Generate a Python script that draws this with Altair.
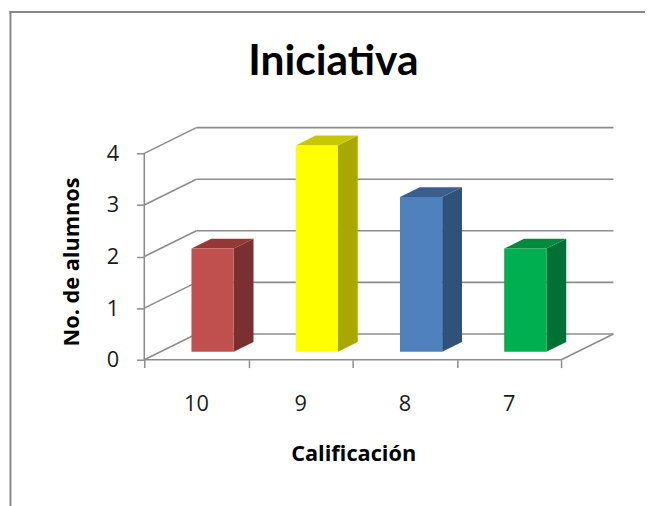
import altair as alt
import pandas as pd

# ---- data -------------------------------------------------------------
categories = ["10", "9", "8", "7"]
values = [2, 4, 3, 2]
front_colors = ["#C0504D", "#FFFF00", "#4F81BD", "#00B050"]
top_colors = ["#953735", "#C8C800", "#3A5F8E", "#008A3E"]
side_colors = ["#79302E", "#A8A800", "#30517A", "#007035"]
y_ticks = [0, 1, 2, 3, 4]

title_text = "Iniciativa"
x_title = "Calificación"
y_title = "No. de alumnos"

# ---- 3-D geometry (in data units) -------------------------------------
DEPTH = 0.5          # wall depth
OFF = 0.155          # distance from front plane to bar front face
BD = 0.19            # bar depth
BW = 0.405           # bar width
n = len(categories)

front_rows, side_rows, top_rows, label_rows = [], [], [], []
for i, (c, v) in enumerate(zip(categories, values)):
    x0 = i + 0.5 - BW / 2 + OFF
    x1 = x0 + BW
    front_rows.append(dict(cat=c, x=x0, x2=x1, y=OFF, y2=v + OFF))
    side_rows += [dict(cat=c, x=x1, y=OFF, y2=v + OFF),
                  dict(cat=c, x=x1 + BD, y=OFF + BD, y2=v + OFF + BD)]
    top_rows += [dict(cat=c, y=v + OFF, x=x0, x2=x1),
                 dict(cat=c, y=v + OFF + BD, x=x0 + BD, x2=x1 + BD)]
    label_rows.append(dict(cat=c, x=i + 0.5))

front_df = pd.DataFrame(front_rows)
side_df = pd.DataFrame(side_rows)
top_df = pd.DataFrame(top_rows)
label_df = pd.DataFrame(label_rows)

# walls / floor / grid lines
wall_rows = []
ymax = max(y_ticks)
for t in y_ticks:
    wall_rows.append(dict(x=DEPTH, x2=n + DEPTH, y=t + DEPTH, y2=t + DEPTH))  # back grid
    wall_rows.append(dict(x=0, x2=DEPTH, y=t, y2=t + DEPTH))                  # side wall
wall_rows.append(dict(x=0, x2=0, y=0, y2=ymax))                               # front axis
wall_rows.append(dict(x=0, x2=n, y=0, y2=0))                                  # floor front
wall_rows.append(dict(x=n, x2=n + DEPTH, y=0, y2=DEPTH))                      # floor right
wall_df = pd.DataFrame(wall_rows)

FONT = "Open Sans"
TFONT = "Lato"
GRID = "#8C8C8C"
TXT = "#1a1a1a"

xs = alt.Scale(domain=[0, n + DEPTH], nice=False, zero=False)
ys = alt.Scale(domain=[0, ymax + DEPTH], nice=False, zero=False)

x_axis = alt.Axis(values=list(range(n + 1)), labels=False, grid=False, domain=False,
                  tickSize=8, tickColor=GRID, tickWidth=1.5, title=x_title,
                  titleFont=FONT, titleFontSize=22, titleFontWeight="bold",
                  titleColor="#000000", titleAlign="center", titleBaseline="alphabetic",
                  titleX=211.5, titleY=102)
y_axis = alt.Axis(values=y_ticks, grid=False, domain=False, tickSize=8,
                  tickColor=GRID, tickWidth=1.5, labelFont=FONT, labelFontSize=22,
                  labelColor=TXT, labelPadding=18, title=y_title,
                  titleFont=FONT, titleFontSize=22, titleFontWeight="bold",
                  titleColor="#000000", titleAngle=270, titleAlign="center",
                  titleBaseline="alphabetic", titleX=-67, titleY=135.5)

walls = alt.Chart(wall_df).mark_rule(color=GRID, strokeWidth=1.6).encode(
    x=alt.X("x:Q", scale=xs, axis=x_axis),
    x2="x2:Q",
    y=alt.Y("y:Q", scale=ys, axis=y_axis),
    y2="y2:Q",
)

side = alt.Chart(side_df).mark_area(orient="vertical", interpolate="linear").encode(
    x=alt.X("x:Q", scale=xs, axis=x_axis),
    y=alt.Y("y:Q", scale=ys, axis=y_axis),
    y2="y2:Q",
    detail="cat:N",
    color=alt.Color("cat:N", scale=alt.Scale(domain=categories, range=side_colors), legend=None),
)

top = alt.Chart(top_df).mark_area(orient="horizontal", interpolate="linear").encode(
    y=alt.Y("y:Q", scale=ys, axis=y_axis),
    x=alt.X("x:Q", scale=xs, axis=x_axis),
    x2="x2:Q",
    detail="cat:N",
    fill=alt.Fill("cat:N", scale=alt.Scale(domain=categories, range=top_colors), legend=None),
)

front = alt.Chart(front_df).mark_rect().encode(
    x=alt.X("x:Q", scale=xs, axis=x_axis),
    x2="x2:Q",
    y=alt.Y("y:Q", scale=ys, axis=y_axis),
    y2="y2:Q",
    fill=alt.Fill("cat:N", scale=alt.Scale(domain=categories, range=front_colors), legend=None),
)

labels = alt.Chart(label_df).mark_text(font=FONT, fontSize=22, color=TXT,
                                       baseline="alphabetic").encode(
    x=alt.X("x:Q", scale=xs, axis=x_axis),
    y=alt.value(287),
    text="cat:N",
)

# chart title as a text mark
title_df = pd.DataFrame({"t": [title_text]})
title = alt.Chart(title_df).mark_text(font=TFONT, fontSize=43, fontWeight="bold",
                                      color="#000000", baseline="alphabetic",
                                      align="center").encode(
    x=alt.value(191.5), y=alt.value(-53), text="t:N")

# outer chart border (decoration)
border_df = pd.DataFrame({"k": ["b"]})
border_left = alt.Chart(border_df).mark_rule(color="#888888", strokeWidth=2).encode(
    x=alt.value(-135.5), y=alt.value(-118), y2=alt.value(400))
border_top = alt.Chart(border_df).mark_rule(color="#888888", strokeWidth=2).encode(
    x=alt.value(-136.5), x2=alt.value(520), y=alt.value(-117))

chart = alt.layer(walls, side, top, front, labels, title, border_left, border_top).resolve_scale(
    color="independent", fill="independent"
).properties(
    width=475,
    height=235,
    autosize=alt.AutoSizeParams(type="none"),
    padding={"left": 138, "top": 118, "right": 32, "bottom": 145},
    background="white",
).configure_view(stroke=None)

chart.save("out.html", embed_options={"renderer": "svg", "actions": False})
